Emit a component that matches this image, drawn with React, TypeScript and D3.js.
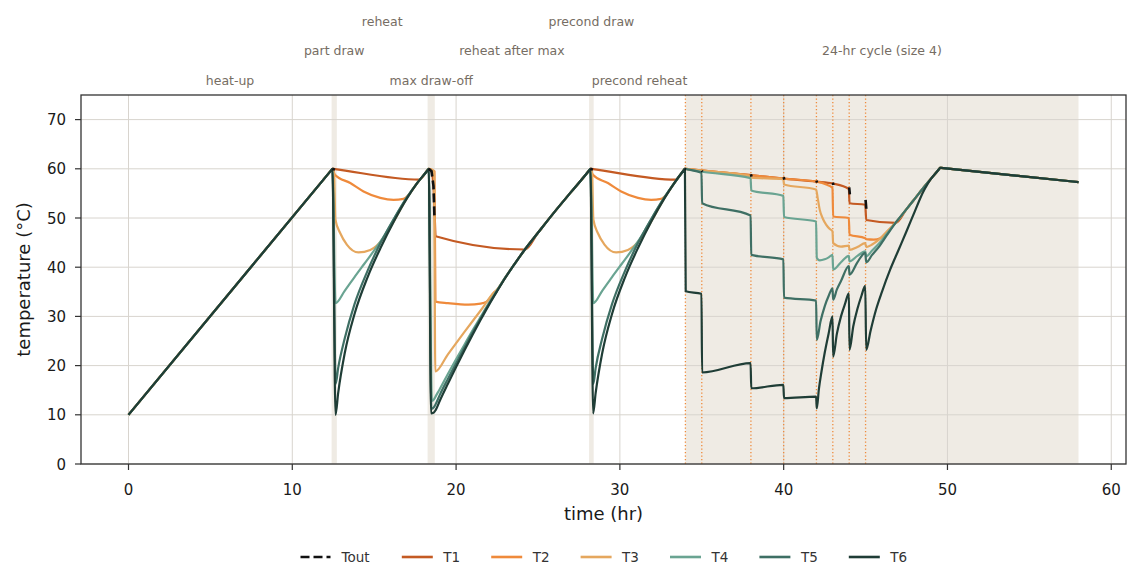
import React from 'react';
import * as d3 from 'd3';

const W = 1141;
const H = 587;
const M = { left: 81, right: 1126, top: 95, bottom: 464 };
const FONT = '"DejaVu Sans", sans-serif';

const xTicks = [0, 10, 20, 30, 40, 50, 60];
const yTicks = [0, 10, 20, 30, 40, 50, 60, 70];

// test phases: names, edges (hr), and which are draw-offs (shaded)
const phaseNames = ['heat-up', 'part draw', 'reheat', 'max draw-off', 'reheat after max', 'precond draw', 'precond reheat', '24-hr cycle (size 4)'];
const phaseEdges = [0, 12.4, 12.72, 18.26, 18.7, 28.12, 28.4, 34, 58];
const phaseShaded = [false, true, false, true, false, true, false, true];

// draw events inside the 24-hr cycle
const drawTimes = [34, 35, 38, 40, 42, 43, 44, 45];

const seriesNames = ['Tout', 'T1', 'T2', 'T3', 'T4', 'T5', 'T6'];
const seriesColors = ['#111111', '#c45a23', '#ef8a3b', '#e5a75e', '#6aa492', '#3e6f64', '#1f3d36'];

type P = [number, number];

const T1: P[] = [
  [0, 10], [12.37, 59.68], [12.45, 60], [12.51, 59.975], [17.75, 57.8], [18.25, 59.7], [18.33, 60],
  [18.5, 59.5], [18.62, 56.5], [18.7, 50], [18.75, 46.3], [24.2, 43.6], [25, 47.0], [26, 51.2], [27, 55.2], [28.12, 59.66], [28.2, 60],
  [28.26, 59.975], [33.4, 57.8], [33.9, 59.73], [33.97, 60],
  [34.03, 59.98], [38, 58.7], [40, 58.0], [42, 57.4], [43, 57.0], [43.98, 55.9], [44.02, 53.0], [44.98, 52.7], [45.04, 49.6], [46.85, 49.0],
  [47.5, 51.8], [48, 53.9], [48.5, 56.0], [49, 58.0], [49.48, 59.9], [49.55, 60.2], [49.61, 60.18], [58, 57.3],
];

const T2: P[] = [
  [0, 10], [12.37, 59.68], [12.45, 60], [12.6, 58.8], [13.54, 57.1], [14.35, 55.4], [15.37, 54.1], [16.18, 53.7], [16.79, 53.9], [17.1, 54.7], [17.6, 57.0], [18.25, 59.65], [18.33, 60],
  [18.68, 59.5], [18.74, 33.0], [19.5, 32.7], [20.75, 32.4], [21.5, 32.6], [21.87, 33.0], [22.3, 34.8], [22.5, 35.4], [23, 37.9], [23.5, 40.3], [24.2, 43.6], [25, 47.0], [26, 51.2], [27, 55.2], [28.12, 59.66], [28.2, 60],
  [28.35, 58.8], [29.27, 57.1], [30.08, 55.4], [31.1, 54.1], [31.91, 53.7], [32.52, 53.9], [32.83, 54.7], [33.3, 57.0], [33.9, 59.7], [33.97, 60],
  [34.03, 59.98], [38, 58.7], [40, 58.0], [42, 57.4], [42.3, 57.2], [42.6, 56.8], [42.98, 56.1], [43.02, 50.3], [43.98, 50.0], [44.02, 46.6], [44.98, 45.9], [45.04, 45.7], [45.5, 45.6], [45.9, 45.9], [46.3, 47.2], [46.85, 49.1],
  [47.5, 51.8], [48, 53.9], [48.5, 56.0], [49, 58.0], [49.48, 59.9], [49.55, 60.2], [49.61, 60.18], [58, 57.3],
];

const T3: P[] = [
  [0, 10], [12.37, 59.68], [12.45, 60], [12.55, 59], [12.63, 49.7], [12.93, 46.9], [13.33, 44.6], [14.04, 43.0], [14.76, 43.5], [15.57, 45.9], [16.28, 49.8], [17.0, 54.1], [17.6, 57.0], [18.25, 59.65], [18.33, 60],
  [18.66, 59.5], [18.73, 18.8], [19.5, 22.3], [20.5, 26.8], [21.5, 31.2], [22.3, 34.8], [22.5, 35.4], [23, 37.9], [23.5, 40.3], [24.2, 43.6], [25, 47.0], [26, 51.2], [27, 55.2], [28.12, 59.66], [28.2, 60],
  [28.3, 59], [28.38, 49.7], [28.66, 46.9], [29.06, 44.6], [29.77, 43.0], [30.49, 43.5], [31.3, 45.9], [32.0, 49.8], [32.72, 54.1], [33.3, 57.0], [33.9, 59.7], [33.97, 60],
  [34.03, 59.97], [37.98, 58.5], [38.02, 58.2], [39.98, 57.9], [40.02, 56.8], [41.98, 55.8], [42.08, 54.0], [42.2, 51.7], [42.4, 49.8], [42.6, 48.6], [42.8, 47.8], [42.98, 47.3],
  [43.02, 44.9], [43.5, 44.2], [43.98, 44.4], [44.02, 43.5], [44.5, 44.1], [44.98, 44.9], [45.04, 44.1], [45.4, 44.6], [45.85, 45.7], [46.3, 47.2], [46.85, 49.1],
  [47.5, 51.8], [48, 53.9], [48.5, 56.0], [49, 58.0], [49.48, 59.9], [49.55, 60.2], [49.61, 60.18], [58, 57.3],
];

const T4: P[] = [
  [0, 10], [12.37, 59.68], [12.45, 60], [12.64, 32.7], [13.2, 35.2], [13.8, 38.0], [14.4, 40.7], [15.0, 43.4], [15.6, 46.3], [16.2, 49.8], [17.0, 54.2], [17.6, 57.0], [18.25, 59.65], [18.33, 60],
  [18.52, 12.8], [18.66, 13.2], [18.76, 13.8], [19.0, 15.2], [19.5, 18.3], [20.0, 21.3], [20.5, 24.2], [21.0, 27.1], [21.5, 29.9], [22.0, 32.7], [22.5, 35.3], [23, 37.9], [23.5, 40.3], [24.2, 43.6], [25, 47.0], [26, 51.2], [27, 55.2], [28.12, 59.66], [28.2, 60],
  [28.38, 32.7], [28.92, 35.2], [29.52, 38.0], [30.12, 40.7], [30.72, 43.4], [31.32, 46.3], [31.92, 49.8], [32.72, 54.2], [33.3, 57.0], [33.9, 59.7], [33.97, 60],
  [34.03, 59.96], [35.0, 59.4], [37.98, 58.1], [38.02, 55.6], [39.98, 54.5], [40.02, 50.2], [41.98, 49.3], [42.02, 41.9], [42.2, 41.4], [42.5, 41.6], [42.75, 42.0], [42.98, 42.5],
  [43.02, 39.5], [43.5, 41.0], [43.98, 42.3], [44.02, 41.2], [44.5, 42.3], [44.98, 43.2], [45.04, 42.2], [45.4, 43.4], [45.85, 44.9], [46.3, 46.8], [46.85, 49.1],
  [47.5, 51.8], [48, 53.9], [48.5, 56.0], [49, 58.0], [49.48, 59.9], [49.55, 60.2], [49.61, 60.18], [58, 57.3],
];

const T5: P[] = [
  [0, 10], [12.37, 59.68], [12.45, 60], [12.65, 16.3], [12.8, 19.5], [13.2, 25.5], [13.8, 32.5], [14.6, 39.3], [15.4, 45.0], [16.2, 49.8], [17.0, 54.2], [17.6, 57.0], [18.25, 59.65], [18.33, 60],
  [18.49, 11.2], [18.64, 11.5], [18.76, 12.2], [19.0, 14.0], [19.5, 17.3], [20.0, 20.5], [20.5, 23.6], [21.0, 26.7], [21.5, 29.6], [22.0, 32.5], [22.5, 35.2], [23, 37.9], [23.5, 40.3], [24.2, 43.6], [25, 47.0], [26, 51.2], [27, 55.2], [28.12, 59.66], [28.2, 60],
  [28.38, 16.3], [28.52, 19.5], [28.92, 25.5], [29.52, 32.5], [30.32, 39.3], [31.12, 45.0], [31.92, 49.8], [32.72, 54.2], [33.3, 57.0], [33.9, 59.7], [33.97, 60],
  [34.03, 59.95], [34.98, 59.2], [35.02, 53.0], [37.98, 50.5], [38.02, 42.5], [39.98, 41.6], [40.02, 33.8], [41.98, 33.2], [42.02, 25.2], [42.25, 29.0], [42.5, 32.0], [42.75, 34.2], [42.98, 35.7],
  [43.02, 33.4], [43.25, 35.5], [43.5, 37.2], [43.98, 40.2], [44.02, 38.5], [44.5, 41.0], [44.98, 42.9], [45.04, 41.0], [45.4, 42.5], [45.85, 44.3], [46.3, 46.5], [46.85, 49.1],
  [47.5, 51.8], [48, 53.9], [48.5, 56.0], [49, 58.0], [49.48, 59.9], [49.55, 60.2], [49.61, 60.18], [58, 57.3],
];

const T6: P[] = [
  [0, 10], [12.37, 59.68], [12.45, 60], [12.64, 10.0], [12.8, 14.4], [13.2, 22.5], [13.8, 30.5], [14.6, 38.0], [15.4, 44.0], [16.2, 49.3], [17.0, 54.0], [17.6, 57.0], [18.25, 59.65], [18.33, 60],
  [18.47, 10.3], [18.62, 10.4], [18.76, 11.0], [19.0, 12.8], [19.5, 16.3], [20.0, 19.7], [20.5, 23.0], [21.0, 26.2], [21.5, 29.3], [22.0, 32.3], [22.5, 35.1], [23, 37.8], [23.5, 40.3], [24.2, 43.6], [25, 47.0], [26, 51.2], [27, 55.2], [28.12, 59.66], [28.2, 60],
  [28.37, 10.3], [28.52, 14.4], [28.92, 22.5], [29.52, 30.5], [30.32, 38.0], [31.12, 44.0], [31.92, 49.3], [32.72, 54.0], [33.3, 57.0], [33.9, 59.7], [33.97, 60],
  [34.02, 35.1], [34.98, 34.6], [35.02, 18.6], [37.98, 20.5], [38.02, 15.4], [39.98, 16.1], [40.02, 13.4], [41.98, 13.7],
  [42.02, 11.3], [42.15, 15.2], [42.3, 18.6], [42.5, 22.5], [42.75, 26.6], [42.98, 30.0],
  [43.02, 21.8], [43.25, 26.5], [43.5, 30.0], [43.75, 32.6], [43.98, 34.7],
  [44.02, 23.2], [44.25, 28.0], [44.5, 31.5], [44.75, 34.2], [44.98, 36.2],
  [45.04, 23.2], [45.3, 27.0], [45.65, 31.5], [46.0, 35.0], [46.5, 39.5], [47.0, 43.4], [47.5, 47.3], [48.0, 51.3], [48.5, 55.2], [48.8, 57.0], [49.0, 58.0], [49.48, 59.9], [49.55, 60.2], [49.61, 60.18], [58, 57.3],
];

// outlet temperature, only while drawing (null = gap)
const Tout: (P | null)[] = [
  [12.45, 60], [12.6, 59.8], null,
  [18.33, 60], [18.5, 59.5], [18.62, 56.5], [18.68, 50.0], null,
  [28.2, 60], [28.35, 59.8], null,
  [33.97, 60], [34.03, 59.9], null,
  [35.0, 59.6], [35.04, 59.4], null,
  [38.0, 58.9], [38.04, 58.4], null,
  [40.0, 58.3], [40.04, 57.8], null,
  [42.0, 57.6], [42.04, 57.2], null,
  [43.0, 57.2], [43.04, 56.7], null,
  [44.0, 56.2], [44.04, 54.8], null,
  [45.0, 53.7], [45.05, 51.7],
];

const layers = [T1, T2, T3, T4, T5, T6];

export default function App() {
  const x = d3.scaleLinear().domain([-2.9, 60.9]).range([M.left, M.right]);
  const y = d3.scaleLinear().domain([0, 75]).range([M.bottom, M.top]);

  const line = d3.line<P>().x(d => x(d[0])).y(d => y(d[1])).curve(d3.curveMonotoneX);
  const outLine = d3.line<P | null>()
    .defined(d => d !== null)
    .x(d => x((d as P)[0]))
    .y(d => y((d as P)[1]));

  const phases = phaseNames.map((name, i) => ({
    name,
    start: phaseEdges[i],
    end: phaseEdges[i + 1],
    shaded: phaseShaded[i],
    level: i % 3,
  }));
  const levelY = [84.5, 55, 25.5];

  const legendX0 = 300.5;
  const legendY = 557;

  return (
    <svg width={W} height={H} style={{ position: 'absolute', left: 0, top: 0, background: '#fff' }} fontFamily={FONT}>
      {/* shaded draw periods */}
      {phases.filter(p => p.shaded).map(p => (
        <rect key={p.name} x={x(p.start)} y={M.top} width={x(p.end) - x(p.start)} height={M.bottom - M.top} fill="#efebe4" />
      ))}

      {/* grid */}
      {xTicks.map(t => (
        <line key={'gx' + t} x1={x(t)} x2={x(t)} y1={M.top} y2={M.bottom} stroke="#d8d4ce" strokeWidth={1} />
      ))}
      {yTicks.map(t => (
        <line key={'gy' + t} x1={M.left} x2={M.right} y1={y(t)} y2={y(t)} stroke="#d8d4ce" strokeWidth={1} />
      ))}

      {/* draw events in the cycle */}
      {drawTimes.map(t => (
        <line key={'dt' + t} x1={x(t)} x2={x(t)} y1={M.top} y2={M.bottom} stroke="#ef8a3b" strokeWidth={1.3} strokeDasharray="1.3 2.2" />
      ))}

      {/* layer temperatures */}
      {layers.map((s, i) => (
        <path key={seriesNames[i + 1]} d={line(s) || ''} fill="none" stroke={seriesColors[i + 1]} strokeWidth={2.2} strokeLinejoin="round" />
      ))}
      <path d={outLine(Tout) || ''} fill="none" stroke={seriesColors[0]} strokeWidth={2.6} strokeDasharray="9 4" />

      {/* frame */}
      <rect x={M.left} y={M.top} width={M.right - M.left} height={M.bottom - M.top} fill="none" stroke="#333" strokeWidth={1.3} />

      {/* x axis */}
      {xTicks.map(t => (
        <g key={'xt' + t}>
          <line x1={x(t)} x2={x(t)} y1={M.bottom} y2={M.bottom + 6} stroke="#333" strokeWidth={1.2} />
          <text x={x(t)} y={494.5} textAnchor="middle" fontSize={15} fill="#1a1a1a">{t}</text>
        </g>
      ))}
      <text x={(M.left + M.right) / 2} y={520} textAnchor="middle" fontSize={18} fill="#1a1a1a">time (hr)</text>

      {/* y axis */}
      {yTicks.map(t => (
        <g key={'yt' + t}>
          <line x1={M.left - 6} x2={M.left} y1={y(t)} y2={y(t)} stroke="#333" strokeWidth={1.2} />
          <text x={66} y={y(t) + 5.5} textAnchor="end" fontSize={15} fill="#1a1a1a">{t}</text>
        </g>
      ))}
      <text transform={`translate(30 ${(M.top + M.bottom) / 2}) rotate(-90)`} textAnchor="middle" fontSize={18} fill="#1a1a1a">temperature (°C)</text>

      {/* phase labels */}
      {phases.map(p => (
        <text key={'pl' + p.name} x={x((p.start + p.end) / 2)} y={levelY[p.level]} textAnchor="middle" fontSize={12.5} fill="#766d63">{p.name}</text>
      ))}

      {/* legend */}
      <g>
        <line x1={legendX0} x2={legendX0 + 30} y1={legendY} y2={legendY} stroke={seriesColors[0]} strokeWidth={2.6} strokeDasharray="9 4" />
        <text x={legendX0 + 41} y={legendY + 5} fontSize={13.5} fill="#333">Tout</text>
        {seriesNames.slice(1).map((n, i) => {
          const lx = 401.8 + i * 89.4;
          return (
            <g key={'lg' + n}>
              <line x1={lx} x2={lx + 31} y1={legendY} y2={legendY} stroke={seriesColors[i + 1]} strokeWidth={2.6} />
              <text x={lx + 41.5} y={legendY + 5} fontSize={13.5} fill="#333">{n}</text>
            </g>
          );
        })}
      </g>
    </svg>
  );
}
